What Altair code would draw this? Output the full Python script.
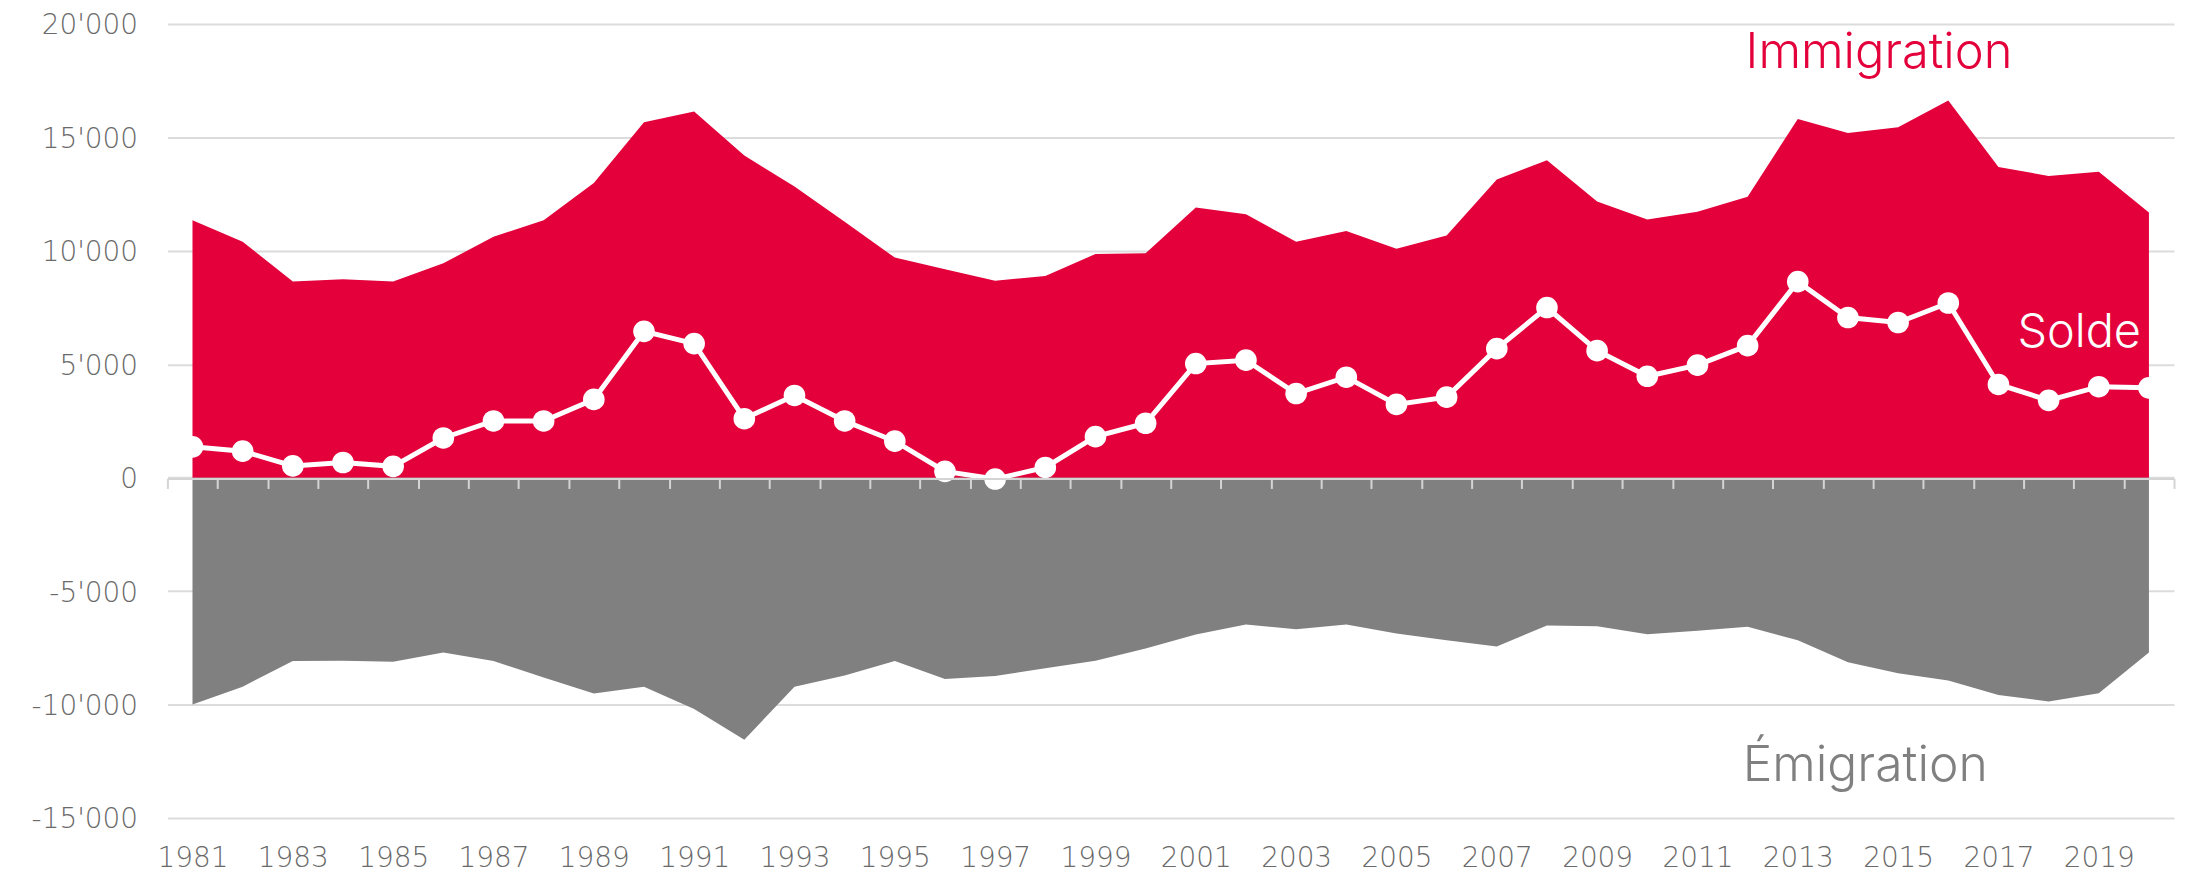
import altair as alt
import pandas as pd

years = list(range(1981, 2021))
immigration = [11350, 10400, 8650, 8750, 8650, 9450, 10620, 11350, 12990, 15670,
               16140, 14200, 12830, 11280, 9700, 9190, 8675, 8895, 9860, 9890,
               11910, 11615, 10400, 10870, 10090, 10680, 13140, 13990, 12170, 11380,
               11720, 12380, 15815, 15190, 15450, 16620, 13690, 13300, 13490, 11690]
emigration = [-10000, -9210, -8080, -8070, -8110, -7700, -8080, -8810, -9515, -9220,
              -10190, -11550, -9210, -8720, -8080, -8870, -8740, -8400, -8070, -7525,
              -6910, -6470, -6680, -6470, -6870, -7160, -7440, -6515, -6545, -6900,
              -6750, -6575, -7160, -8140, -8620, -8940, -9575, -9865, -9500, -7710]
solde = [1360, 1170, 520, 670, 500, 1750, 2500, 2500, 3450, 6450,
         5910, 2600, 3625, 2500, 1610, 280, -60, 450, 1810, 2400,
         5030, 5180, 3710, 4430, 3230, 3550, 5690, 7500, 5600, 4470,
         4960, 5820, 8640, 7060, 6840, 7700, 4110, 3410, 4010, 3960]
y_ticks = [-15000, -10000, -5000, 0, 5000, 10000, 15000, 20000]
series_labels = ["Immigration", "Solde", "Émigration"]

RED = "#e3003b"
GRAY = "#808080"
FONT = "Inter"
AXIS_FONT = "DejaVu Sans"

df = pd.DataFrame({"year": years, "immigration": immigration,
                   "emigration": emigration, "solde": solde})

xaxis = alt.Axis(orient="bottom", offset=-340.8, tickBand="extent", ticks=True,
                 tickSize=10, tickColor="#d4d4d4", tickWidth=2,
                 domain=True, domainColor="#d4d4d4", domainWidth=2,
                 labelPadding=357, labelAngle=0, labelOverlap=False,
                 labelExpr="datum.value % 2 == 1 ? datum.label : ''",
                 labelFontSize=28, labelFont=AXIS_FONT, labelFontWeight=200,
                 labelColor="#6a6a6a", title=None, grid=False, zindex=1)
yaxis = alt.Axis(values=y_ticks, grid=True, gridColor="#dcdcdc", gridWidth=2,
                 domain=False, ticks=False, labelPadding=30, labelOffset=2,
                 labelFontSize=28, labelFont=AXIS_FONT, labelFontWeight=200,
                 labelColor="#6a6a6a", title=None, zindex=0,
                 labelExpr="replace(replace(format(datum.value, ','), ',', \"'\"), '\u2212', '-')")

X = alt.X("year:O", scale=alt.Scale(type="band", paddingInner=0, paddingOuter=0),
          bandPosition=0.5, axis=xaxis, title=None)
yscale = alt.Scale(domain=[-15000, 20000], nice=False, zero=True)

base = alt.Chart(df)
red = base.mark_area(color=RED, opacity=1).encode(
    x=X, y=alt.Y("immigration:Q", scale=yscale, axis=yaxis, title=None))
gray = base.mark_area(color=GRAY, opacity=1).encode(
    x=X, y=alt.Y("emigration:Q", title=None))
line = base.mark_line(color="white", strokeWidth=5).encode(
    x=X, y=alt.Y("solde:Q", title=None))
pts = base.mark_circle(color="white", size=470, opacity=1).encode(
    x=X, y=alt.Y("solde:Q", title=None))


def label_layer(text, year, value, color, align, dx, size):
    return alt.Chart(pd.DataFrame({"label": [text]})).mark_text(
        align=align, baseline="alphabetic", fontSize=size, font=FONT,
        fontWeight=300, color=color, dx=dx).encode(
        x=alt.XDatum(year, type="ordinal", bandPosition=0.5),
        y=alt.YDatum(value, type="quantitative"),
        text="label:N")


t_imm = label_layer(series_labels[0], 2012, 18070, RED, "left", -2, 49)
t_sol = label_layer(series_labels[1], 2020, 5780, "white", "right", -8, 47)
t_emi = label_layer(series_labels[2], 2012, -13370, GRAY, "left", -5, 50)

chart = alt.layer(red, gray, line, pts, t_imm, t_sol, t_emi).properties(
    width=2014, height=797,
    autosize=alt.AutoSizeParams(type="none"),
    padding={"left": 160, "top": 14.4, "right": 6, "bottom": 56},
    background="white",
).configure_view(stroke=None)

chart.save("out.html", embed_options={"renderer": "svg", "actions": False})
